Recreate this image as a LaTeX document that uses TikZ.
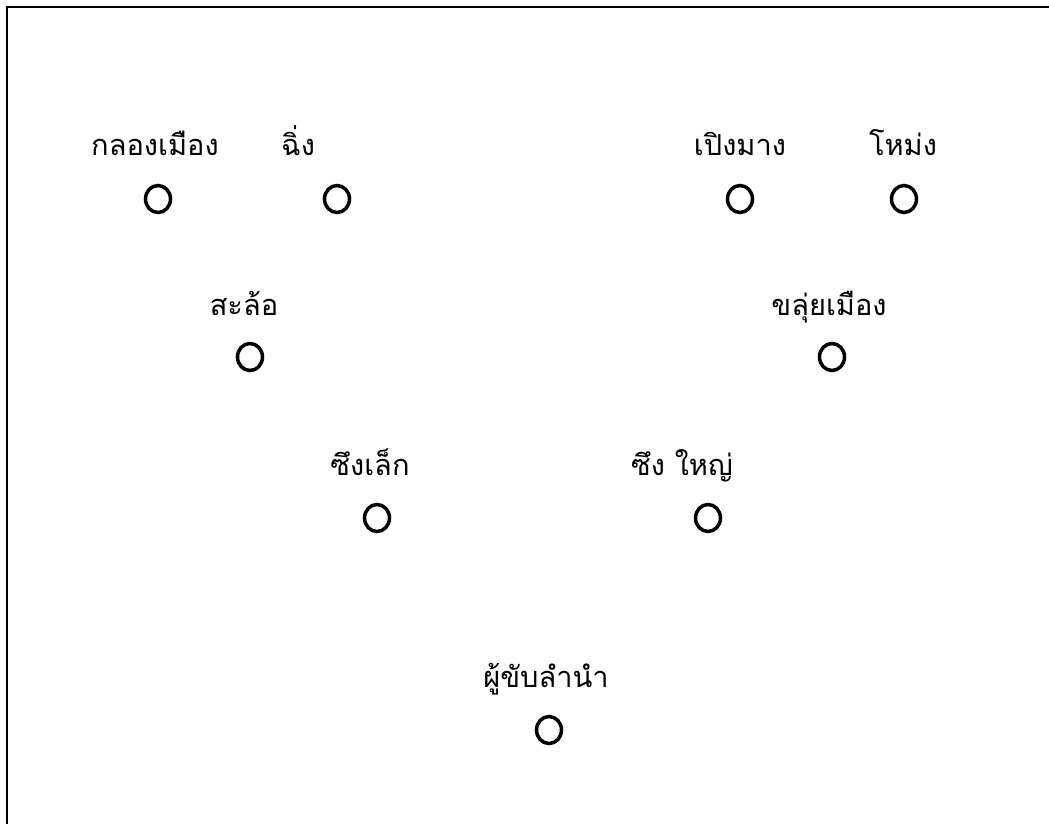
\documentclass[tikz,border=0pt]{standalone}
\usepackage{fontspec}
\newfontfamily\thaifont[Script=Thai]{Loma}
\usetikzlibrary{shapes.geometric}
\tikzset{
  seat/.style={draw, ellipse, line width=3.5pt, minimum width=25pt, minimum height=27pt, inner sep=0pt},
  lbl/.style={anchor=base, font=\thaifont\fontsize{29}{33}\selectfont, inner sep=0pt}
}
\begin{document}
\begin{tikzpicture}[x=1pt,y=-1pt]
\useasboundingbox (0,0) rectangle (1049,824);
\coordinate (tl) at (7,7);
\coordinate (tr) at (1049,7);
\coordinate (bl) at (7,824);
\draw[line width=2pt] (bl) -- (tl) -- (tr);
% row 1
\node[lbl] (l1) at (155,155) {กลองเมือง};
\node[seat] (c1) at (158,199) {};
\node[lbl] (l2) at (298,155) {ฉิ่ง};
\node[seat] (c2) at (337,199) {};
\node[lbl] (l3) at (740,155) {เปิงมาง};
\node[seat] (c3) at (740,199) {};
\node[lbl] (l4) at (903,155) {โหม่ง};
\node[seat] (c4) at (904,199) {};
% row 2
\node[lbl] (l5) at (244,315) {สะล้อ};
\node[seat] (c5) at (250,357) {};
\node[lbl] (l6) at (829,315) {ขลุ่ยเมือง};
\node[seat] (c6) at (832,357) {};
% row 3
\node[lbl] (l7) at (370,475) {ซึงเล็ก};
\node[seat] (c7) at (377,518) {};
\node[lbl] (l8) at (682,475) {ซึง ใหญ่};
\node[seat] (c8) at (708,518) {};
% row 4
\node[lbl] (l9) at (546,687) {ผู้ขับลำนำ};
\node[seat] (c9) at (549,730) {};
\end{tikzpicture}
\end{document}
